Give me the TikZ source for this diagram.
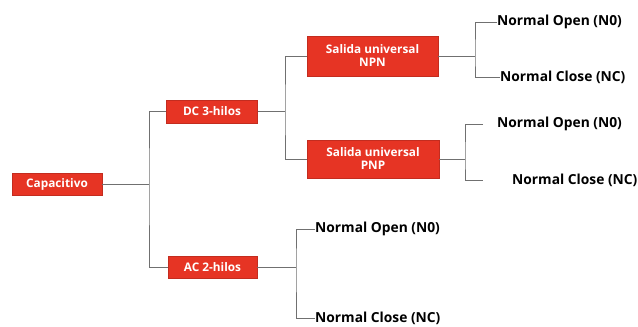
\documentclass[tikz,border=0pt]{standalone}
\usepackage{fontspec}
\setmainfont{Open Sans}
\definecolor{boxred}{RGB}{230,52,36}
\definecolor{linegray}{RGB}{112,112,112}
\begin{document}
\begin{tikzpicture}[x=1pt,y=-1pt,
  box/.style={fill=boxred, draw=boxred!85!black, line width=0.4pt, text=white,
    font=\bfseries\fontsize{11.8}{13}\selectfont, inner sep=0pt, align=center},
  leaf/.style={anchor=west, font=\bfseries\fontsize{13.8}{15}\selectfont, inner sep=0pt, text=black},
  conn/.style={draw=linegray, line width=0.9pt}]
\useasboundingbox (0,0) rectangle (638,327);
\node[box, minimum width=90pt, minimum height=22pt] (cap) at (57,184) {Capacitivo};
\node[box, minimum width=91pt, minimum height=23pt] (dc) at (212,111.5) {DC 3-hilos};
\node[box, minimum width=89pt, minimum height=22pt] (ac) at (212.5,267) {AC 2-hilos};
\node[box, minimum width=131pt, minimum height=40pt] (npn) at (372.5,56) {Salida universal\\NPN};
\node[box, minimum width=132pt, minimum height=38pt] (pnp) at (373,159) {Salida universal\\PNP};
\node[leaf] (no1) at (497,22) {Normal Open (N0)};
\node[leaf] (nc1) at (500,77) {Normal Close (NC)};
\node[leaf] (no2) at (497,124) {Normal Open (N0)};
\node[leaf] (nc2) at (512,180) {Normal Close (NC)};
\node[leaf] (no3) at (315,229) {Normal Open (N0)};
\node[leaf] (nc3) at (315,318) {Normal Close (NC)};
\coordinate (j0) at (149,184);
\coordinate (j1) at (285,111.5);
\coordinate (j2) at (475,56);
\coordinate (j3) at (465,159);
\coordinate (j4) at (296,267);
\coordinate (t2) at (483,124);
\coordinate (b2) at (483,180);
\draw[conn] (cap.east) -- (j0);
\draw[conn] (dc.west) -| (j0) |- (ac.west);
\draw[conn] (dc.east) -- (j1);
\draw[conn] (npn.west) -| (j1) |- (pnp.west);
\draw[conn] (npn.east) -- (j2);
\draw[conn] (no1.west) -| (j2) |- (nc1.west);
\draw[conn] (pnp.east) -- (j3);
\draw[conn] (t2) -| (j3) |- (b2);
\draw[conn] (ac.east) -- (j4);
\draw[conn] (no3.west) -| (j4) |- (nc3.west);
\end{tikzpicture}
\end{document}
